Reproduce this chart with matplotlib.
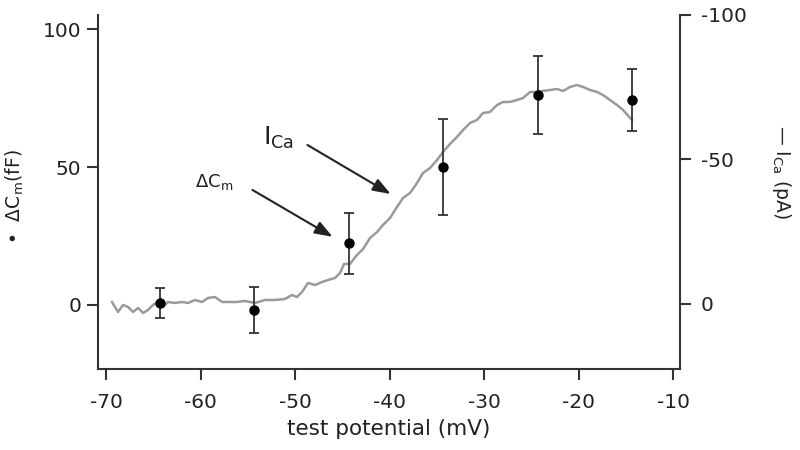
import matplotlib
matplotlib.use("Agg")
import matplotlib.pyplot as plt

# ΔCm data (left axis, fF)
dcm_x = [-64.3, -54.3, -44.3, -34.3, -24.3, -14.3]
dcm_y = [0.7, -1.8, 22.3, 50.0, 76.1, 74.3]
dcm_err = [5.3, 8.3, 10.9, 17.5, 14.1, 11.2]

# ICa trace (right axis, pA)
ica_x = [-69.37, -68.73, -68.20, -67.67, -67.14, -66.61, -66.08, -65.56, -65.03, -64.50,
         -63.97, -63.44, -62.70, -61.96, -61.32, -60.58, -59.84, -59.21, -58.47, -57.72,
         -57.09, -56.14, -55.29, -54.23, -53.17, -52.12, -51.06, -50.32, -49.79, -49.26,
         -48.62, -47.88, -47.14, -46.51, -45.77, -45.24, -44.81, -44.18, -43.54, -42.80,
         -42.06, -41.32, -40.69, -39.95, -39.21, -38.57, -37.83, -37.09, -36.46, -35.71,
         -34.97, -34.34, -33.60, -32.86, -32.22, -31.48, -30.74, -30.11, -29.37, -28.62,
         -27.99, -27.25, -26.51, -25.87, -25.13, -24.39, -23.76, -23.02, -22.28, -21.64,
         -20.90, -20.16, -19.52, -18.78, -18.04, -17.41, -16.67, -15.93, -15.29, -14.34]
ica_y = [-0.69, 2.77, 0.35, 1.04, 2.77, 1.38, 3.11, 2.08, 0.35, -0.69,
         1.04, -0.69, -0.35, -0.69, -0.35, -1.38, -0.69, -2.08, -2.42, -0.69,
         -0.69, -0.69, -1.04, -0.35, -1.38, -1.38, -1.73, -3.11, -2.42, -4.15,
         -7.27, -6.57, -7.61, -8.30, -9.00, -10.73, -13.84, -13.84, -16.61, -19.03,
         -22.84, -24.91, -27.34, -29.76, -33.56, -36.68, -38.41, -41.87, -45.33, -47.06,
         -49.83, -52.60, -55.36, -57.79, -60.21, -62.63, -63.67, -66.09, -66.44, -68.86,
         -69.90, -69.90, -70.59, -71.28, -73.36, -73.36, -73.70, -74.05, -74.39, -73.70,
         -75.09, -75.78, -75.09, -74.05, -73.36, -72.32, -70.59, -68.86, -67.13, -63.67]

x_ticks = [-70, -60, -50, -40, -30, -20, -10]
left_ticks = [0, 50, 100]
right_ticks = [-100, -50, 0]

plt.rcParams['font.family'] = ['DejaVu Sans']
plt.rcParams['mathtext.default'] = 'regular'
plt.rcParams['axes.unicode_minus'] = False

spine_c = '#333333'
fig = plt.figure(figsize=(8, 4.5), dpi=100)
ax = fig.add_axes([0.1225, 0.18, 0.7275, 0.7867])
ax2 = ax.twinx()

ax2.plot(ica_x, ica_y, color='#9a9a9a', lw=1.8)
ax2.set_ylim(22.5, -100)
ax2.set_yticks(right_ticks)
ax2.set_yticklabels([str(t) for t in right_ticks])

ax.errorbar(dcm_x, dcm_y, yerr=dcm_err, fmt='o', color='black', ecolor='#333333',
            elinewidth=1.3, capsize=3.6, capthick=1.3, markersize=6.5)
ax.set_xlim(-70.85, -9.26)
ax.set_ylim(-23.2, 105.1)
ax.set_xticks(x_ticks)
ax.set_xticklabels([str(t) for t in x_ticks])
ax.set_yticks(left_ticks)

ax.set_zorder(ax2.get_zorder() + 1)
ax.patch.set_visible(False)

for s in ['top', 'right']:
    ax.spines[s].set_visible(False)
for s in ['top', 'left', 'bottom']:
    ax2.spines[s].set_visible(False)
for a in (ax, ax2):
    for s in a.spines.values():
        s.set_color(spine_c)
        s.set_linewidth(1.5)
    a.tick_params(colors=spine_c, labelcolor='#222222', width=1.5, length=8, labelsize=14.5)
ax.tick_params(axis='y', pad=4)
ax.tick_params(axis='x', pad=9)
ax2.tick_params(axis='y', pad=7)

ax.set_xlabel('test potential (mV)', fontsize=15.5, color='#222222', labelpad=5)

fig.text(15/800, 1 - 197/450, '•  ΔC$_m$(fF)', rotation=90, ha='center', va='center',
         fontsize=13.5, color='#222222')
fig.text(782/800, 1 - 172/450, '— I$_{Ca}$ (pA)', rotation=270, ha='center', va='center',
         fontsize=13.5, color='#222222')

ax.annotate('', xy=(-39.63, 39.7), xytext=(-48.94, 58.5),
            arrowprops=dict(arrowstyle='-|>,head_length=0.6,head_width=0.22',
                            color='#222222', lw=1.5, mutation_scale=18))
ax.annotate('', xy=(-45.77, 24.2), xytext=(-54.76, 42.2),
            arrowprops=dict(arrowstyle='-|>,head_length=0.6,head_width=0.22',
                            color='#222222', lw=1.5, mutation_scale=18))
ax.text(-53.4, 58.1, 'I$_{Ca}$', fontsize=18, color='#222222', ha='left', va='baseline')
ax.text(-60.6, 42.6, 'ΔC$_m$', fontsize=13, color='#222222', ha='left', va='baseline')

fig.savefig('out.png', dpi=100)
